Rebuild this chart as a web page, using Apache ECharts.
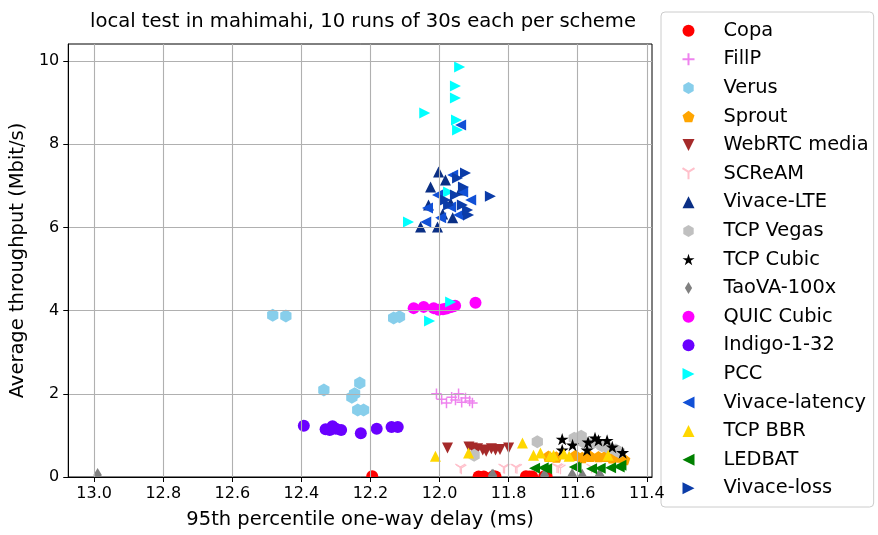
<!DOCTYPE html>
<html><head><meta charset="utf-8">
<script src="https://cdn.jsdelivr.net/npm/echarts@6/dist/echarts.min.js"></script>
<style>html,body{margin:0;padding:0;background:#fff}#c{width:878px;height:535px}</style>
</head><body><div id="c"></div>
<script>
const xTicks = [11.4, 11.6, 11.8, 12.0, 12.2, 12.4, 12.6, 12.8, 13.0];
const yTicks = [0, 2, 4, 6, 8, 10];
const titleText = 'local test in mahimahi, 10 runs of 30s each per scheme';
const xLabel = '95th percentile one-way delay (ms)';
const yLabel = 'Average throughput (Mbit/s)';

const schemes = ['Copa','FillP','Verus','Sprout','WebRTC media','SCReAM','Vivace-LTE','TCP Vegas','TCP Cubic','TaoVA-100x','QUIC Cubic','Indigo-1-32','PCC','Vivace-latency','TCP BBR','LEDBAT','Vivace-loss'];

const copaX = [12.195, 11.887, 11.872, 11.845, 11.838, 11.750, 11.740, 11.732, 11.697, 11.690];
const copaY = [0.02, 0.01, 0.01, 0.02, 0.01, 0.02, 0.01, 0.01, 0.02, 0.01];
const fillpX = [12.009, 11.994, 11.980, 11.965, 11.954, 11.945, 11.936, 11.925, 11.913, 11.905];
const fillpY = [2.00, 1.87, 1.78, 1.92, 1.85, 2.00, 1.80, 1.90, 1.83, 1.78];
const verusX = [12.483, 12.445, 12.133, 12.116, 12.335, 12.231, 12.246, 12.254, 12.237, 12.220];
const verusY = [3.89, 3.87, 3.82, 3.85, 2.09, 2.26, 2.00, 1.92, 1.61, 1.61];
const sproutX = [11.685, 11.662, 11.607, 11.587, 11.564, 11.540, 11.520, 11.500, 11.477, 11.465];
const sproutY = [0.50, 0.48, 0.52, 0.47, 0.50, 0.49, 0.50, 0.46, 0.48, 0.42];
const webrtcX = [11.977, 11.915, 11.905, 11.890, 11.875, 11.865, 11.850, 11.838, 11.825, 11.800];
const webrtcY = [0.70, 0.72, 0.70, 0.68, 0.65, 0.62, 0.68, 0.65, 0.66, 0.70];
const screamX = [11.940, 11.937, 11.815, 11.812, 11.780, 11.776, 11.660, 11.656, 11.650, 11.560];
const screamY = [0.20, 0.18, 0.20, 0.19, 0.20, 0.19, 0.21, 0.20, 0.18, 0.20];
const vivLteX = [12.003, 12.026, 11.983, 12.055, 12.006, 11.962, 11.968, 12.032, 11.939, 11.991];
const vivLteY = [7.33, 6.97, 7.14, 6.01, 6.01, 6.23, 6.59, 6.54, 6.90, 6.32];
const vegasX = [11.900, 11.717, 11.610, 11.590, 11.585, 11.560, 11.530, 11.510, 11.490, 11.480];
const vegasY = [0.52, 0.85, 0.93, 0.98, 0.85, 0.80, 0.75, 0.70, 0.65, 0.60];
const cubicX = [11.645, 11.645, 11.615, 11.573, 11.570, 11.550, 11.540, 11.515, 11.500, 11.470];
const cubicY = [0.91, 0.65, 0.77, 0.65, 0.84, 0.94, 0.88, 0.88, 0.72, 0.59];
const taovaX = [12.990, 11.848, 11.845, 11.697, 11.695, 11.617, 11.615, 11.587, 11.538, 11.535];
const taovaY = [0.05, 0.03, 0.03, 0.03, 0.03, 0.03, 0.03, 0.03, 0.03, 0.03];
const quicX = [12.075, 12.046, 12.017, 12.003, 11.990, 11.980, 11.970, 11.962, 11.955, 11.896];
const quicY = [4.06, 4.09, 4.06, 4.02, 4.03, 4.05, 4.08, 4.10, 4.12, 4.19];
const indigoX = [12.393, 12.330, 12.318, 12.310, 12.300, 12.285, 12.228, 12.182, 12.139, 12.121];
const indigoY = [1.23, 1.15, 1.13, 1.22, 1.16, 1.13, 1.05, 1.16, 1.20, 1.20];
const pccX = [11.942, 11.954, 11.954, 12.043, 11.951, 11.948, 12.090, 11.974, 11.968, 12.029];
const pccY = [9.86, 9.40, 9.11, 8.75, 8.58, 8.34, 6.13, 6.85, 4.21, 3.75];
const vivLatX = [11.939, 12.035, 12.006, 12.040, 11.968, 11.945, 11.933, 11.962, 11.997, 11.910];
const vivLatY = [8.46, 6.47, 6.78, 6.13, 6.49, 6.30, 6.85, 7.26, 6.23, 6.66];
const bbrX = [12.012, 11.916, 11.760, 11.728, 11.708, 11.680, 11.670, 11.640, 11.625, 11.512];
const bbrY = [0.50, 0.58, 0.82, 0.52, 0.58, 0.50, 0.52, 0.55, 0.50, 0.52];
const ledbatX = [11.725, 11.700, 11.690, 11.610, 11.605, 11.560, 11.535, 11.505, 11.480, 11.475];
const ledbatY = [0.21, 0.22, 0.20, 0.24, 0.22, 0.20, 0.21, 0.22, 0.24, 0.28];
const vivLossX = [11.925, 11.948, 11.931, 11.853, 11.919, 11.916, 11.954, 11.974, 11.983, 11.934];
const vivLossY = [7.31, 7.19, 6.97, 6.75, 6.42, 6.30, 6.78, 6.54, 6.66, 6.54];

// marker shapes
function starPath() {
  let d = '';
  for (let k = 0; k < 10; k++) {
    const r = k % 2 === 0 ? 1 : 0.382;
    const a = (-90 + 36 * k) * Math.PI / 180;
    d += (k === 0 ? 'M' : 'L') + (r * Math.cos(a)).toFixed(4) + ',' + (r * Math.sin(a)).toFixed(4);
  }
  return 'path://' + d + 'Z';
}
const SYM = {
  circle: 'circle',
  plus: 'path://M0,5L10,5M5,0L5,10',
  hexagon: 'path://M0,-1L0.866,-0.5L0.866,0.5L0,1L-0.866,0.5L-0.866,-0.5Z',
  pentagon: 'path://M0,-1L0.951,-0.309L0.588,0.809L-0.588,0.809L-0.951,-0.309Z',
  triDown: 'path://M-1,-1L1,-1L0,1Z',
  tri1: 'path://M0,0L0,1M0,0L-0.8,-0.5M0,0L0.8,-0.5',
  triUp: 'path://M0,-1L1,1L-1,1Z',
  star: starPath(),
  thinDiamond: 'path://M0,-1L0.6,0L0,1L-0.6,0Z',
  triRight: 'path://M-1,-1L1,0L-1,1Z',
  triLeft: 'path://M1,-1L-1,0L1,1Z'
};

const style = {
  'Copa': ['#ff0000', 'circle', 12],
  'FillP': ['#ee82ee', 'plus', 10.5, 1.5],
  'Verus': ['#87ceeb', 'hexagon', 13],
  'Sprout': ['#ffa500', 'pentagon', 12],
  'WebRTC media': ['#a52a2a', 'triDown', 11],
  'SCReAM': ['#ffc0cb', 'tri1', 10, 1.3],
  'Vivace-LTE': ['#0a2f85', 'triUp', 11],
  'TCP Vegas': ['#c0c0c0', 'hexagon', 13],
  'TCP Cubic': ['#000000', 'star', 13],
  'TaoVA-100x': ['#808080', 'thinDiamond', 14],
  'QUIC Cubic': ['#ff00ff', 'circle', 12],
  'Indigo-1-32': ['#6a00ff', 'circle', 12],
  'PCC': ['#00ffff', 'triRight', 11],
  'Vivace-latency': ['#1150d6', 'triLeft', 11],
  'TCP BBR': ['#ffd700', 'triUp', 11],
  'LEDBAT': ['#008000', 'triLeft', 11],
  'Vivace-loss': ['#0b3ca8', 'triRight', 11]
};
const seriesData = {
  'Copa': [copaX, copaY], 'FillP': [fillpX, fillpY], 'Verus': [verusX, verusY],
  'Sprout': [sproutX, sproutY], 'WebRTC media': [webrtcX, webrtcY], 'SCReAM': [screamX, screamY],
  'Vivace-LTE': [vivLteX, vivLteY], 'TCP Vegas': [vegasX, vegasY], 'TCP Cubic': [cubicX, cubicY],
  'TaoVA-100x': [taovaX, taovaY], 'QUIC Cubic': [quicX, quicY], 'Indigo-1-32': [indigoX, indigoY],
  'PCC': [pccX, pccY], 'Vivace-latency': [vivLatX, vivLatY], 'TCP BBR': [bbrX, bbrY],
  'LEDBAT': [ledbatX, ledbatY], 'Vivace-loss': [vivLossX, vivLossY]
};

const FONT = 'DejaVu Sans';
const series = schemes.map(name => {
  const [c, sym, size, stroke] = style[name];
  const [xs, ys] = seriesData[name];
  return {
    name, type: 'scatter', z: 2,
    symbol: SYM[sym], symbolSize: size, symbolKeepAspect: true,
    itemStyle: stroke ? {color: c, borderColor: c, borderWidth: stroke, opacity: 1} : {color: c, opacity: 1},
    emphasis: {disabled: true},
    data: xs.map((x, i) => [x, ys[i]])
  };
});

const chart = echarts.init(document.getElementById('c'), null, {renderer: 'canvas'});
chart.setOption({
  animation: false,
  backgroundColor: '#fff',
  textStyle: {fontFamily: FONT},
  title: {
    text: titleText, left: 358, top: 7, textAlign: 'center',
    textStyle: {fontFamily: FONT, fontSize: 19.6, fontWeight: 'normal', color: '#000'}
  },
  grid: {left: 67, top: 44, width: 585, height: 433, show: true, borderColor: '#000', borderWidth: 1, backgroundColor: 'transparent'},
  xAxis: {
    type: 'value', inverse: true, min: 11.385, max: 13.075, z: 5,
    name: xLabel, nameLocation: 'middle', nameGap: 33,
    nameTextStyle: {fontFamily: FONT, fontSize: 19.5, color: '#000'},
    axisLine: {show: true, lineStyle: {color: '#000', width: 1}},
    axisTick: {show: true, length: 5, customValues: xTicks, lineStyle: {color: '#000'}},
    axisLabel: {customValues: xTicks, margin: 9, fontFamily: FONT, fontSize: 16, color: '#000', formatter: v => v.toFixed(1)},
    splitLine: {show: true, lineStyle: {color: '#b0b0b0', width: 1.1}}
  },
  yAxis: {
    type: 'value', min: 0, max: 10.41, z: 5,
    name: yLabel, nameLocation: 'middle', nameGap: 37, nameRotate: 90,
    nameTextStyle: {fontFamily: FONT, fontSize: 19.5, color: '#000'},
    axisLine: {show: true, lineStyle: {color: '#000', width: 1}},
    axisTick: {show: true, length: 5, customValues: yTicks, lineStyle: {color: '#000'}},
    axisLabel: {customValues: yTicks, margin: 9, fontFamily: FONT, fontSize: 16, color: '#000'},
    splitLine: {show: true, lineStyle: {color: '#b0b0b0', width: 1.1}}
  },
  legend: {
    orient: 'vertical', left: 661, top: 12,
    padding: [7.7, 5, 7.7, 20.5],
    itemWidth: 12, itemHeight: 12, itemGap: 6.6,
    backgroundColor: 'rgba(255,255,255,0.85)', borderColor: '#cccccc', borderWidth: 1, borderRadius: 4,
    textStyle: {fontFamily: FONT, fontSize: 19.4, color: '#000', lineHeight: 22, padding: [0, 0, 0, 24]},
    data: schemes
  },
  graphic: [{
    type: 'rect', z: 3, silent: true,
    shape: {x: 66, y: 478, width: 588, height: 7},
    style: {fill: '#fff'}
  }],
  series
});
</script></body></html>
